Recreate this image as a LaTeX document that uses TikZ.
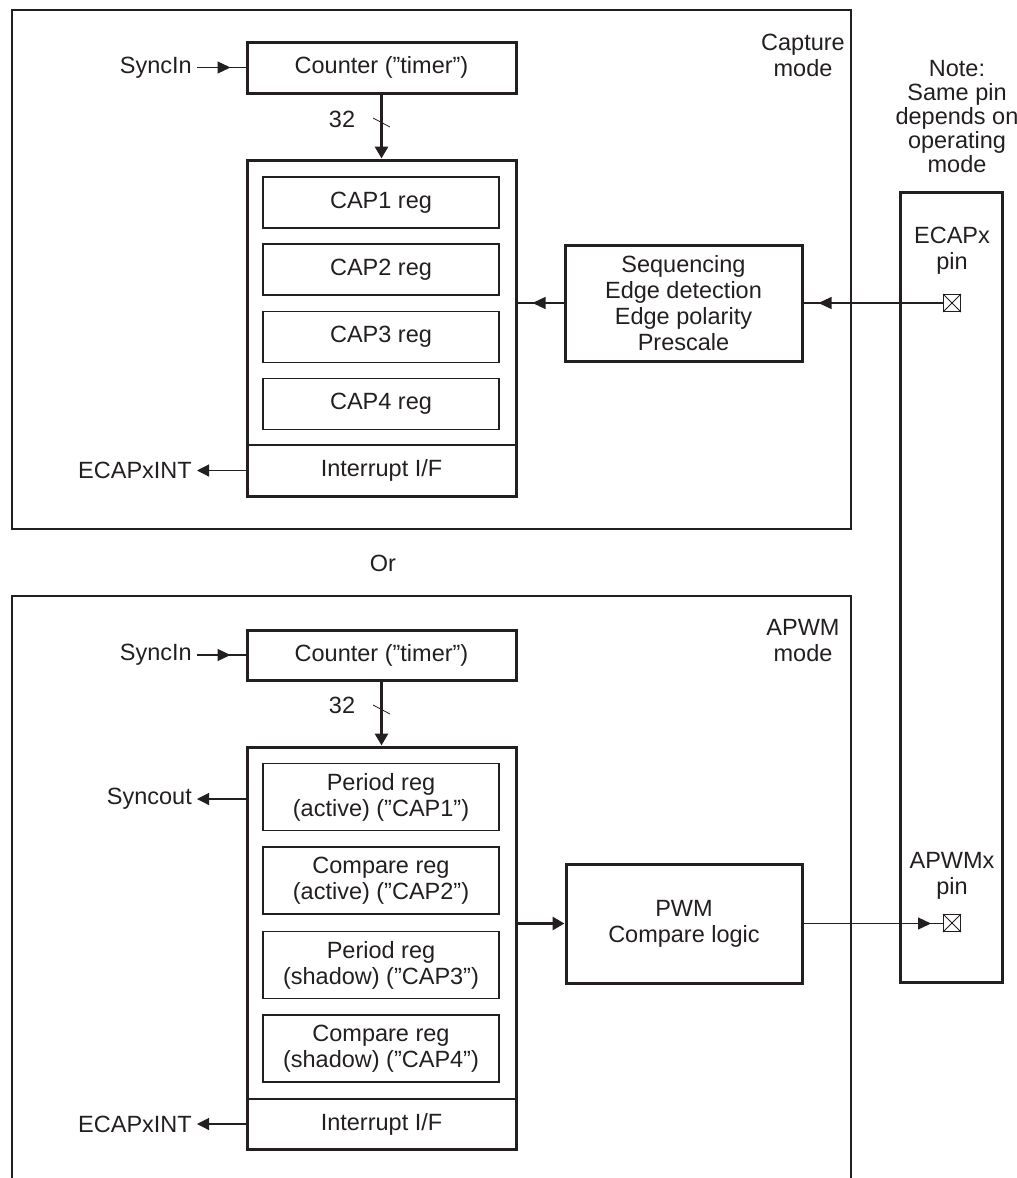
\documentclass[tikz,border=0pt]{standalone}
\usepackage{fontspec}
\setmainfont{Liberation Sans}
\usetikzlibrary{arrows.meta,decorations.markings}
\definecolor{ink}{RGB}{35,31,32}
\begin{document}
\begin{tikzpicture}[x=1pt,y=-1pt,
  every node/.style={font=\fontsize{23.5}{26}\selectfont, text=ink, align=center},
  thickbox/.style={draw=ink, line width=3pt, inner sep=0pt},
  thinbox/.style={draw=ink, line width=1.2pt, inner sep=0pt},
  frame/.style={draw=ink, line width=2pt},
  wire/.style={draw=ink, line width=1.2pt},
  bus/.style={draw=ink, line width=3.2pt, -{Triangle[length=12pt,width=13pt]}},
  endtip/.style={-{Triangle[length=12pt,width=12pt]}},
  gaptip/.style={postaction={decorate}, decoration={markings,
      mark=at position -#1 with {\arrow{Triangle[length=13pt,width=12pt]}}}},
  gaptip/.default=15pt,
  lbl/.style={anchor=east, inner xsep=5pt, inner ysep=0pt},
  pinsym/.style={draw=ink, line width=1pt, minimum size=17pt, inner sep=0pt},
  cntbox/.style={thickbox, minimum width=269pt, minimum height=51pt},
  regbox/.style={thinbox, minimum width=236pt, minimum height=51pt},
  regboxtall/.style={thinbox, minimum width=236pt, minimum height=67pt},
]
\useasboundingbox (0,0) rectangle (1017,1178);

% ---------------- frames ----------------
\draw[frame] (12,10) rectangle (851,529);
\draw[frame] (12,1180) -- (12,596) -- (851,596) -- (851,1180);

% ---------------- capture mode ----------------
\node (capmode) at (803,55) {Capture\\mode};
\node[cntbox] (capcnt) at (381.5,67.5) {Counter (”timer”)};
\node[thinbox, minimum width=269pt, minimum height=51pt] (capint) at (381.5,470.5) {Interrupt I/F};
\node[thickbox, minimum width=269pt, minimum height=336pt] (capblk) at (381.5,328) {};
\node[regbox] (cap1) at (381,202.5) {CAP1 reg};
\node[regbox] (cap2) at (381,269.5) {CAP2 reg};
\node[regbox] (cap3) at (381,337) {CAP3 reg};
\node[regbox] (cap4) at (381,404) {CAP4 reg};

\node[lbl] (sync1) at (197,67.5) {SyncIn};
\draw[wire, gaptip] (sync1.east) -- (sync1.east -| capcnt.west);
\node[lbl] (int1) at (197,470.5) {ECAPxINT};
\draw[wire, endtip] (capint.west) -- (int1.east);

\draw[bus] (capcnt.south) -- (capblk.north);
\node (w1) at (342,119) {32};
\draw[wire, line width=0.8pt] (373,118) -- (390,127);

\node[thickbox, minimum width=237pt, minimum height=116pt] (seq) at (683.5,303)
  {Sequencing\\Edge detection\\Edge polarity\\Prescale};
\draw[wire, gaptip] (seq.west) -- (seq.west -| capblk.east);

% ---------------- pin column ----------------
\node[font=\fontsize{23.5}{24}\selectfont] (note) at (957,117) {Note:\\Same pin\\depends on\\operating\\mode};
\node[thickbox, minimum width=102pt, minimum height=790pt] (pincol) at (951,587) {};
\node (ecapx) at (952,251) {ECAPx\\pin};
\node[pinsym] (pinA) at (952,303) {};
\draw[ink, line width=0.8pt] (pinA.north west) -- (pinA.south east) (pinA.north east) -- (pinA.south west);
\draw[wire, gaptip] (pinA.west) -- (seq.east);

\node (apwmx) at (952,876) {APWMx\\pin};
\node[pinsym] (pinB) at (952,923) {};
\draw[ink, line width=0.8pt] (pinB.north west) -- (pinB.south east) (pinB.north east) -- (pinB.south west);

% ---------------- Or ----------------
\node (or) at (383,563) {Or};

% ---------------- APWM mode ----------------
\node (apmode) at (803,641) {APWM\\mode};
\node[cntbox, minimum height=50pt] (apcnt) at (381.5,655) {Counter (”timer”)};
\node[thinbox, minimum width=269pt, minimum height=50pt] (apint) at (381.5,1124) {Interrupt I/F};
\node[thickbox, minimum width=269pt, minimum height=402pt] (apblk) at (381.5,948) {};
\node[regboxtall] (r1) at (381,797) {Period reg\\(active) (”CAP1”)};
\node[regboxtall] (r2) at (381,880.5) {Compare reg\\(active) (”CAP2”)};
\node[regboxtall] (r3) at (381,965) {Period reg\\(shadow) (”CAP3”)};
\node[regboxtall] (r4) at (381,1048.5) {Compare reg\\(shadow) (”CAP4”)};

\node[lbl] (sync2) at (197,655) {SyncIn};
\draw[wire, gaptip] (sync2.east) -- (sync2.east -| apcnt.west);
\node[lbl] (syncout) at (197,799) {Syncout};
\draw[wire, endtip] (syncout.east -| apblk.west) -- (syncout.east);
\node[lbl] (int2) at (197,1124) {ECAPxINT};
\draw[wire, endtip] (apint.west) -- (int2.east);

\draw[bus] (apcnt.south) -- (apblk.north);
\node (w2) at (342,705) {32};
\draw[wire, line width=0.8pt] (373,705) -- (390,714);

\node[thickbox, minimum width=236pt, minimum height=119pt] (pwm) at (684,923.5) {PWM\\Compare logic};
\draw[bus] (pwm.west -| apblk.east) -- (pwm.west);
\draw[wire, gaptip=12pt] (pwm.east) -- (pinB.west |- pwm.east);
\end{tikzpicture}
\end{document}
